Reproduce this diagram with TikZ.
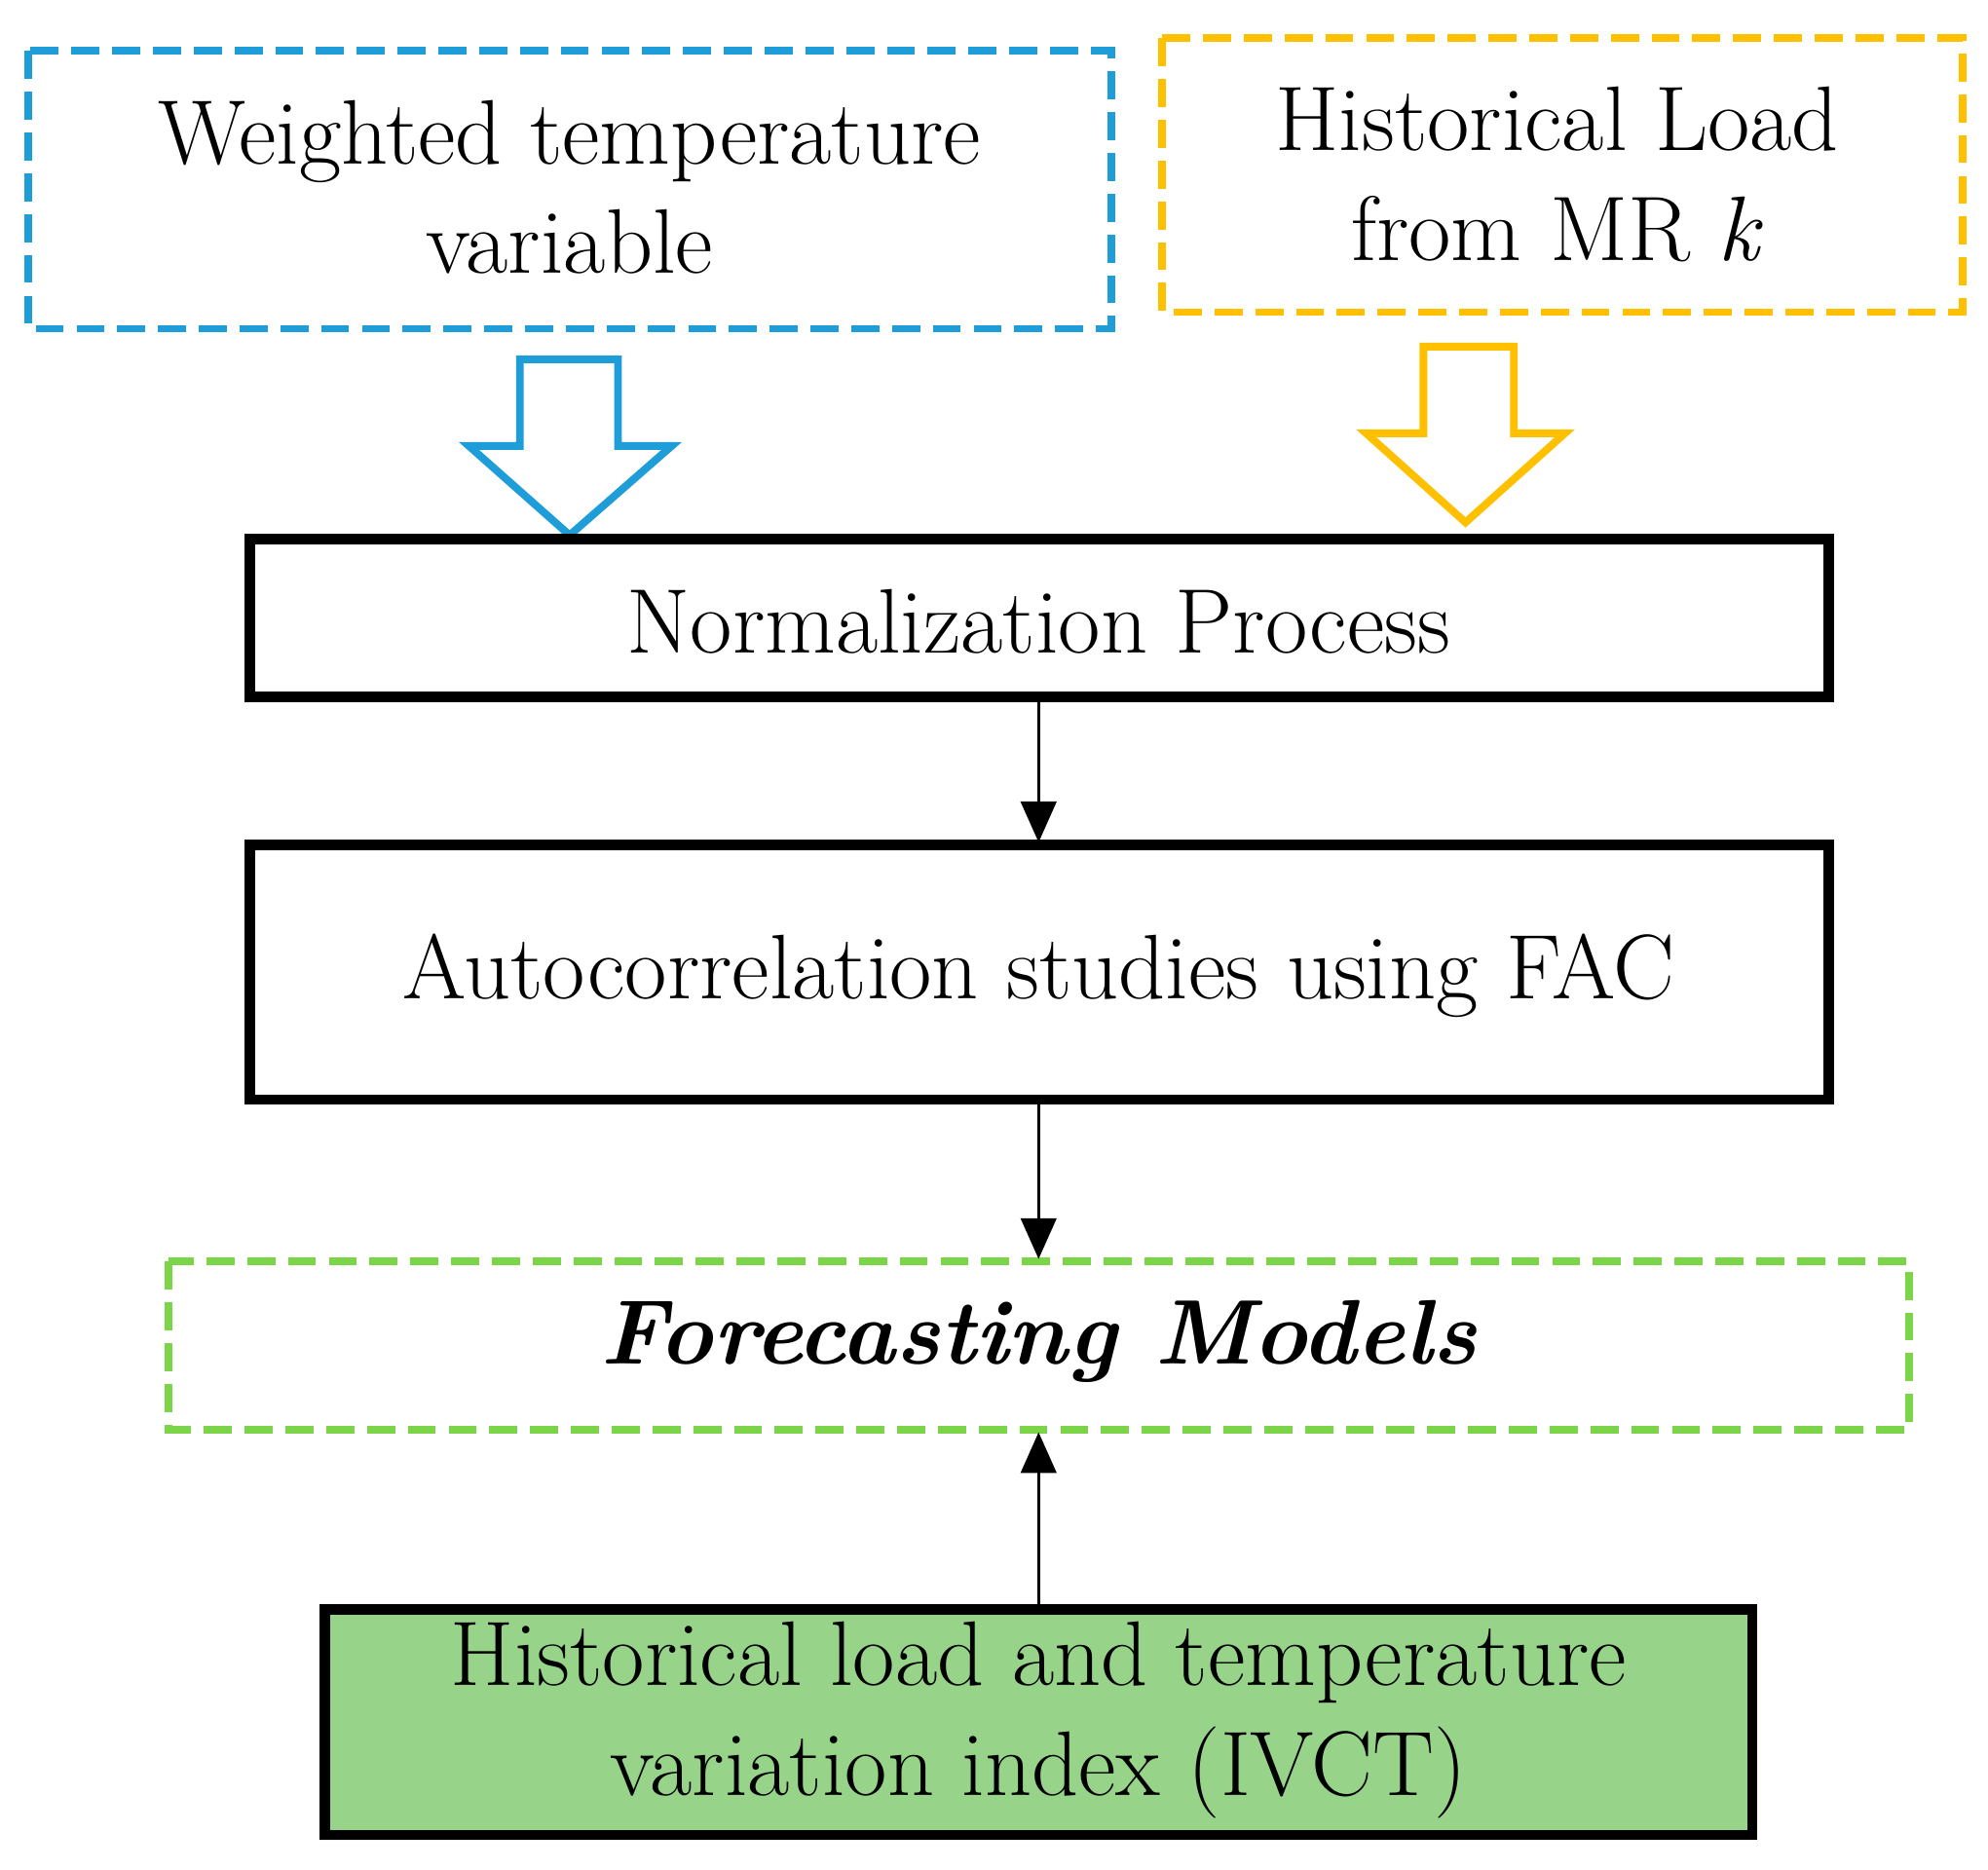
\documentclass[tikz,border=0pt]{standalone}
\usetikzlibrary{arrows.meta}
\definecolor{cblue}{HTML}{1F9DD9}
\definecolor{cyel}{HTML}{FFC000}
\definecolor{cgreen}{HTML}{7CD548}
\definecolor{cfill}{HTML}{97D48A}
\begin{document}
\begin{tikzpicture}[x=0.5pt,y=-0.5pt,
  txt/.style={font=\fontsize{36}{43}\selectfont,align=center},
  dbox/.style={line width=3pt,dash pattern=on 11pt off 5pt},
  sbox/.style={draw=black,line width=4pt},
  conn/.style={line width=1pt,-{Triangle[length=16pt,width=14pt]}},
  hollow/.style={line width=3pt,fill=white}]
\useasboundingbox (0,0) rectangle (1560,1467);
\draw[dbox,draw=cblue] (22,40) rectangle (872,258);
\node[txt] (wt) at (447,147) {Weighted temperature\\variable};
\draw[dbox,draw=cyel] (912,30) rectangle (1540,245);
\node[txt] (hl) at (1222,137) {Historical Load\\from MR \textit{k}};
\draw[hollow,draw=cblue] (408,282) -- (485,282) -- (485,350) -- (527,350) -- (447,420) -- (368,350) -- (408,350) -- cycle;
\draw[hollow,draw=cyel] (1117,272) -- (1188,272) -- (1188,340) -- (1228,340) -- (1150,410) -- (1072,340) -- (1117,340) -- cycle;
\draw[sbox] (196,423) rectangle (1435,547);
\node[txt] (np) at (815,488) {Normalization Process};
\draw[sbox] (196,663) rectangle (1435,863);
\node[txt] (ac) at (815,766) {Autocorrelation studies using FAC};
\draw[dbox,draw=cgreen] (132,990) rectangle (1498,1122);
\node[txt,font=\fontsize{36}{43}\selectfont\bfseries\itshape] (fm) at (815,1053) {Forecasting Models};
\draw[sbox,fill=cfill] (255,1263) rectangle (1375,1440);
\node[txt] (hi) at (815,1350) {Historical load and temperature\\variation index (IVCT)};
\coordinate (a1) at (815,549); \coordinate (a2) at (815,661);
\coordinate (b1) at (815,865); \coordinate (b2) at (815,988);
\coordinate (c1) at (815,1261); \coordinate (c2) at (815,1124);
\draw[conn] (a1) -- (a2);
\draw[conn] (b1) -- (b2);
\draw[conn] (c1) -- (c2);
\end{tikzpicture}
\end{document}
